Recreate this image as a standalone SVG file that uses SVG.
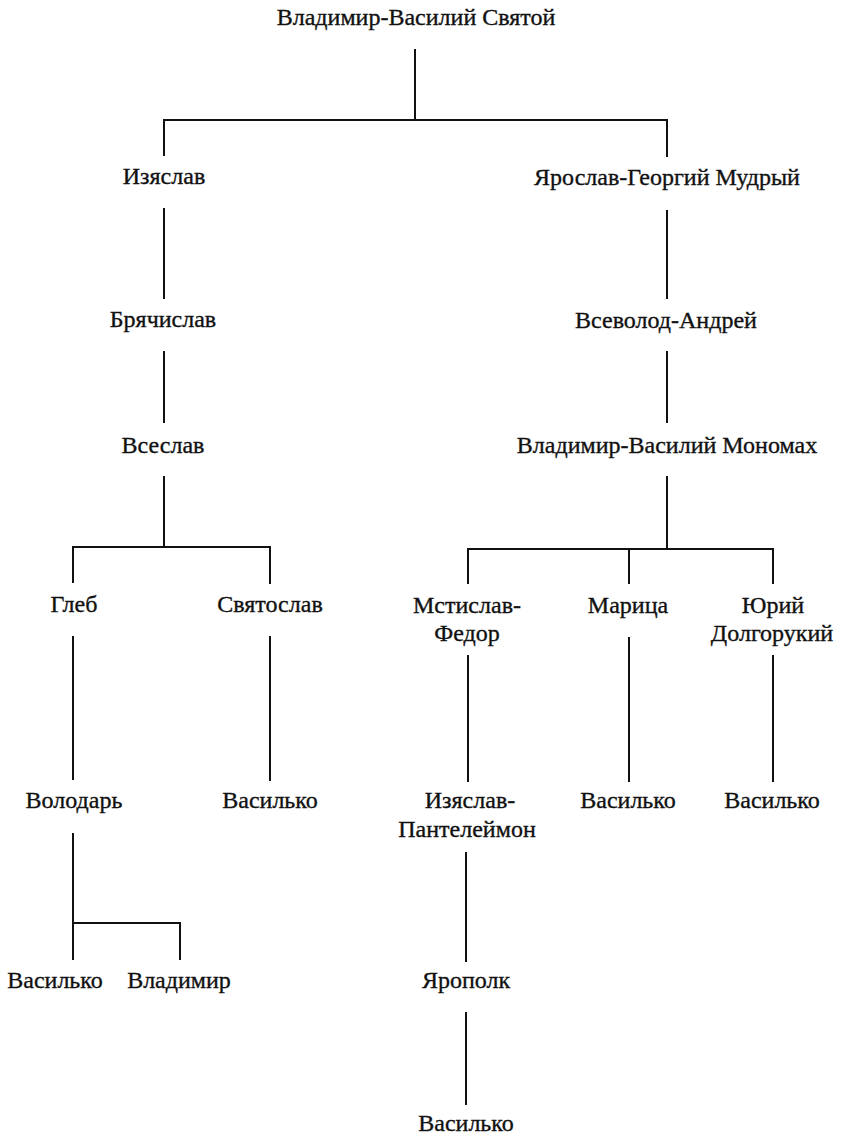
<svg xmlns="http://www.w3.org/2000/svg" width="842" height="1137" viewBox="0 0 842 1137">
<style>
text{font-family:"Liberation Serif","Times New Roman",serif;font-size:24px;fill:#111;stroke:#111;stroke-width:0.35;text-anchor:middle}
.c line,.c path{stroke:#111;stroke-width:2;fill:none}
</style>
<rect width="842" height="1137" fill="#fff"/>
<g class="c" id="connectors">
<line x1="415" y1="49" x2="415" y2="120"/>
<path d="M164 156V120H667V157"/>
<line x1="164" y1="208" x2="164" y2="299"/>
<line x1="164" y1="351" x2="164" y2="423"/>
<line x1="164" y1="476" x2="164" y2="547"/>
<line x1="667" y1="210" x2="667" y2="299"/>
<line x1="667" y1="351" x2="667" y2="423"/>
<line x1="667" y1="476" x2="667" y2="549"/>
<path d="M73 583V547H270V584"/>
<path d="M468 584V549H773V584"/>
<line x1="629" y1="549" x2="629" y2="584"/>
<line x1="73" y1="636" x2="73" y2="780"/>
<line x1="270" y1="636" x2="270" y2="781"/>
<line x1="468" y1="655" x2="468" y2="782"/>
<line x1="629" y1="637" x2="629" y2="782"/>
<line x1="773" y1="655" x2="773" y2="782"/>
<path d="M73 833V960M73 923H180V960"/>
<line x1="466" y1="852" x2="466" y2="962"/>
<line x1="466" y1="1012" x2="466" y2="1105"/>
</g>
<g id="n-root"><text x="416" y="25">Владимир-Василий Святой</text></g>
<g id="n-izyaslav"><text x="164" y="184">Изяслав</text></g>
<g id="n-yaroslav"><text x="667" y="185">Ярослав-Георгий Мудрый</text></g>
<g id="n-bryachislav"><text x="163" y="327">Брячислав</text></g>
<g id="n-vsevolod"><text x="666" y="328">Всеволод-Андрей</text></g>
<g id="n-vseslav"><text x="163" y="453">Всеслав</text></g>
<g id="n-monomakh"><text x="667" y="453">Владимир-Василий Мономах</text></g>
<g id="n-gleb"><text x="74" y="612">Глеб</text></g>
<g id="n-svyatoslav"><text x="270" y="612">Святослав</text></g>
<g id="n-mstislav"><text x="467" y="613">Мстислав-</text><text x="467" y="641">Федор</text></g>
<g id="n-marica"><text x="628" y="613">Марица</text></g>
<g id="n-yuri"><text x="773" y="613">Юрий</text><text x="772" y="641">Долгорукий</text></g>
<g id="n-volodar"><text x="74" y="808">Володарь</text></g>
<g id="n-vasilko1"><text x="270" y="808">Василько</text></g>
<g id="n-izyaslav2"><text x="470" y="808">Изяслав-</text><text x="467" y="837">Пантелеймон</text></g>
<g id="n-vasilko2"><text x="628" y="808">Василько</text></g>
<g id="n-vasilko3"><text x="772" y="808">Василько</text></g>
<g id="n-vasilko4"><text x="55" y="988">Василько</text></g>
<g id="n-vladimir"><text x="179" y="988">Владимир</text></g>
<g id="n-yaropolk"><text x="466" y="988">Ярополк</text></g>
<g id="n-vasilko5"><text x="466" y="1131">Василько</text></g>
</svg>
